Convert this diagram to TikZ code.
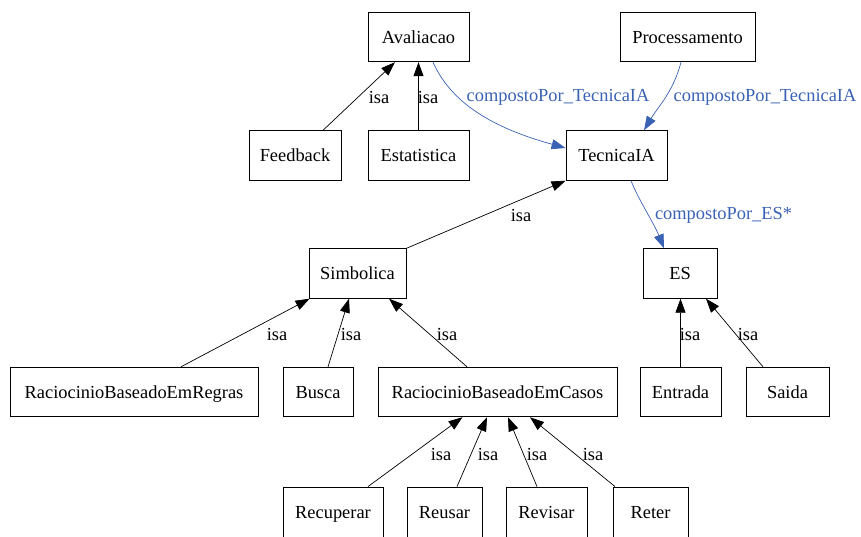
\documentclass[tikz,border=0pt]{standalone}
\usepackage{fontspec}
\setmainfont{Liberation Serif}
\usetikzlibrary{arrows.meta}
\definecolor{relblue}{RGB}{58,98,180}
\begin{document}
\begin{tikzpicture}[x=1pt,y=-1pt,
  font=\fontsize{18.4}{22}\selectfont,
  box/.style={draw=black,line width=0.9pt,minimum height=49.5pt,inner sep=0pt,fill=white,
    text height=16.4pt,text depth=4pt},
  isa/.style={draw=black,line width=0.7pt,-{Triangle[length=14pt,width=10pt]}},
  comp/.style={draw=relblue,line width=0.7pt,-{Triangle[length=14pt,width=10pt]},fill=none},
  isalbl/.style={text=black,inner sep=0pt},
  complbl/.style={text=relblue,inner sep=0pt}]
\useasboundingbox (0,0) rectangle (861,536);

% concept boxes
\node[box,minimum width=101pt] (av)  at (418.5,37) {Avaliacao};
\node[box,minimum width=135pt] (pro) at (687.5,37) {Processamento};
\node[box,minimum width=92pt]  (fb)  at (295,155.5) {Feedback};
\node[box,minimum width=101pt] (est) at (418.5,155.5) {Estatistica};
\node[box,minimum width=101pt] (tec) at (616.5,155.5) {TecnicaIA};
\node[box,minimum width=97pt]  (sim) at (357.5,273.5) {Simbolica};
\node[box,minimum width=74pt]  (es)  at (680,273.5) {ES};
\node[box,minimum width=248pt] (rbr) at (134,392) {RaciocinioBaseadoEmRegras};
\node[box,minimum width=70pt]  (bus) at (318,392) {Busca};
\node[box,minimum width=239pt] (rbc) at (497.5,392) {RaciocinioBaseadoEmCasos};
\node[box,minimum width=81pt]  (ent) at (680.5,392) {Entrada};
\node[box,minimum width=83pt]  (sai) at (787.5,392) {Saida};
\node[box,minimum width=100pt,minimum height=51pt] (rec) at (333,512.5) {Recuperar};
\node[box,minimum width=75pt,minimum height=51pt]  (reu) at (444.5,512.5) {Reusar};
\node[box,minimum width=81pt,minimum height=51pt]  (rev) at (546.5,512.5) {Revisar};
\node[box,minimum width=75pt,minimum height=51pt]  (ret) at (650.5,512.5) {Reter};

% isa relations
\draw[isa] ([xshift=28pt]fb.north) -- ([xshift=-23.5pt]av.south);
\draw[isa] (est.north) -- (av.south);
\draw[isa] (sim.north east) -- (tec.south west);
\draw[isa] ([xshift=47pt]rbr.north) -- ([xshift=1pt]sim.south west);
\draw[isa] ([xshift=10pt]bus.north) -- ([xshift=-8.5pt]sim.south);
\draw[isa] ([xshift=-30.5pt]rbc.north) -- ([xshift=31.5pt]sim.south);
\draw[isa] (ent.north) -- ([xshift=0.5pt]es.south);
\draw[isa] ([xshift=-24.5pt]sai.north) -- ([xshift=26pt]es.south);
\draw[isa] ([xshift=35pt]rec.north) -- ([xshift=-35pt]rbc.south);
\draw[isa] ([xshift=12.5pt]reu.north) -- ([xshift=-10.5pt]rbc.south);
\draw[isa] ([xshift=-9.5pt]rev.north) -- ([xshift=10.5pt]rbc.south);
\draw[isa] ([xshift=-35.5pt]ret.north) -- ([xshift=32.5pt]rbc.south);

% composition relations
\draw[comp] ([xshift=14.5pt]av.south) .. controls +(20,45) and +(-65,-18) .. ([yshift=7.5pt]tec.west);
\draw[comp] ([xshift=-6.5pt]pro.south) .. controls +(-8,30) and +(15,-25) .. ([xshift=27.5pt]tec.north);
\draw[comp] ([xshift=14.5pt]tec.south) .. controls +(8,20) and +(-10,-25) .. ([xshift=-16pt]es.north);

% edge labels
\node[isalbl] (l1)  at (379,97) {isa};
\node[isalbl] (l2)  at (428,97) {isa};
\node[complbl] (l3) at (558,97) {compostoPor\_TecnicaIA};
\node[complbl] (l4) at (765,97) {compostoPor\_TecnicaIA};
\node[isalbl] (l5)  at (521,215) {isa};
\node[complbl] (l6) at (723.5,215) {compostoPor\_ES*};
\node[isalbl] (l7)  at (277,334) {isa};
\node[isalbl] (l8)  at (351,334) {isa};
\node[isalbl] (l9)  at (447,334) {isa};
\node[isalbl] (l10) at (690,334) {isa};
\node[isalbl] (l11) at (748,334) {isa};
\node[isalbl] (l12) at (441,454) {isa};
\node[isalbl] (l13) at (488,454) {isa};
\node[isalbl] (l14) at (537,454) {isa};
\node[isalbl] (l15) at (593,454) {isa};
\end{tikzpicture}
\end{document}
